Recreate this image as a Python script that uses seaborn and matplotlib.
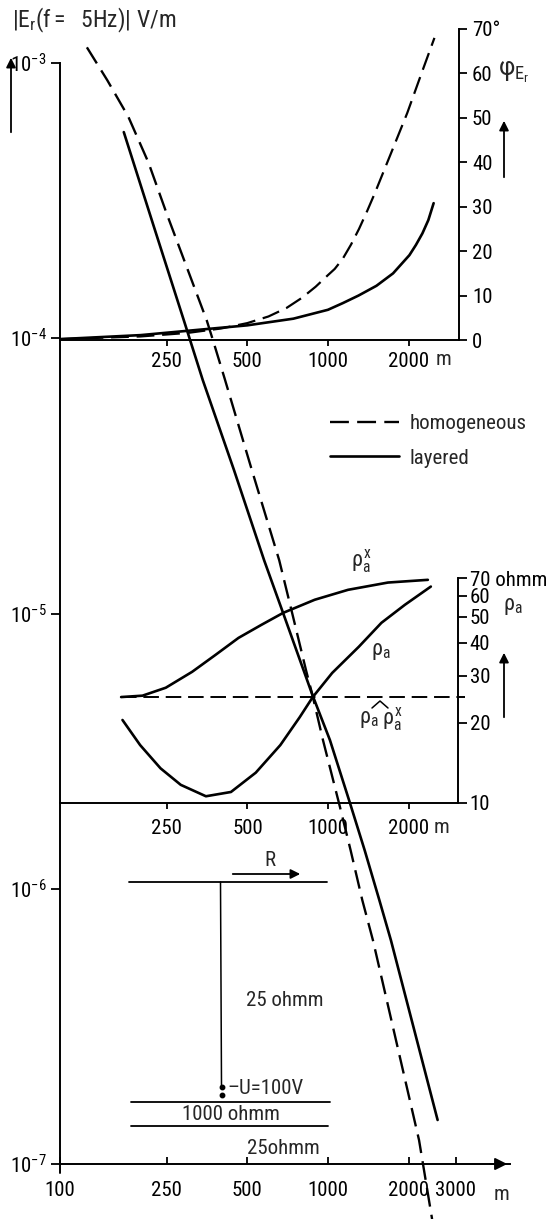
import matplotlib
matplotlib.use("Agg")
import numpy as np
import pandas as pd
import matplotlib.pyplot as plt
from matplotlib import font_manager
from matplotlib.lines import Line2D
from matplotlib.ticker import FixedLocator, FixedFormatter, NullLocator
import seaborn as sns

# |E_r| at f = 5 Hz versus offset R (m), V/m
r_hom = [126, 150, 180, 214, 251, 353, 372, 411, 520, 658, 735, 828, 875, 958, 1109, 1215, 1343, 1472, 2188, 2447]
e_hom = [1.14e-3, 8.67e-4, 6.37e-4, 4.34e-4, 2.81e-4, 1.16e-4, 9.86e-5, 7.17e-5, 3.32e-5, 1.56e-5,
         1.005e-5, 6.23e-6, 5.06e-6, 3.47e-6, 1.98e-6, 1.38e-6, 9.1e-7, 6.5e-7, 1.22e-7, 6.31e-8]
r_lay = [173, 223, 290, 341, 446, 578, 680, 875, 1017, 1208, 1371, 1555, 1718, 2566]
e_lay = [5.61e-4, 2.58e-4, 1.16e-4, 7.05e-5, 3.32e-5, 1.56e-5, 1.005e-5, 5.06e-6, 3.47e-6,
         2.05e-6, 1.38e-6, 9.1e-7, 6.5e-7, 1.445e-7]

# phase of E_r (degrees)
r_ph_hom = [100, 200, 300, 400, 500, 600, 700, 800, 900, 1000, 1060, 1136, 1220, 1306, 1400,
            1495, 1721, 1977, 2237, 2497]
ph_hom = [0.2, 0.8, 1.6, 2.6, 3.8, 5.3, 7.2, 9.5, 12.0, 14.6, 16.0, 18.3, 21.5, 25.0, 29.0,
          33.0, 42.1, 51.1, 60.1, 68.0]
r_ph_lay = [100, 200, 316, 500, 743, 1000, 1136, 1300, 1517, 1750, 2014, 2130, 2252, 2370, 2480]
ph_lay = [0.2, 1.1, 2.2, 3.3, 4.8, 6.8, 8.3, 10.0, 12.2, 15.0, 19.1, 21.4, 24.0, 27.0, 30.8]

# apparent resistivities (ohm m)
r_rho_x = [169, 203, 248, 311, 380, 463, 564, 680, 891, 1186, 1670, 2353]
rho_x = [25.0, 25.3, 27.1, 31.1, 36.0, 41.7, 46.7, 51.8, 58.0, 63.2, 67.3, 68.9]
r_rho_a = [171, 199, 237, 282, 350, 434, 537, 663, 783, 876, 1035, 1300, 1579, 1931, 2414]
rho_a = [20.5, 16.5, 13.5, 11.7, 10.6, 11.0, 13.0, 16.5, 21.0, 25.0, 30.8, 38.6, 47.5, 55.5, 65.0]
r_rho_hom = [169, 3230]
rho_hom = [25.0, 25.0]

main_xticks = [100, 250, 500, 1000, 2000, 3000]
main_yticks = [1e-7, 1e-6, 1e-5, 1e-4, 1e-3]
main_ylabels = [r"$10^{-7}$", r"$10^{-6}$", r"$10^{-5}$", r"$10^{-4}$", r"$10^{-3}$"]
panel_xticks = [250, 500, 1000, 2000]
phase_ticks = [0, 10, 20, 30, 40, 50, 60, 70]
phase_labels = ["0", "10", "20", "30", "40", "50", "60", "70°"]
rho_ticks = [10, 20, 30, 40, 50, 60, 70]
rho_labels = ["10", "20", "30", "40", "50", "60", "70 ohmm"]

sns.set_style("ticks")
available = {f.name for f in font_manager.fontManager.ttflist}
fam = "DejaVu Sans"
for cand in ["Liberation Sans Narrow", "DejaVu Sans Condensed", "Roboto Condensed", "Liberation Sans"]:
    if cand in available:
        fam = cand
        break
plt.rcParams["font.family"] = [fam, "DejaVu Sans"]
plt.rcParams["mathtext.fontset"] = "custom"
plt.rcParams["mathtext.rm"] = fam
plt.rcParams["mathtext.it"] = fam
plt.rcParams["mathtext.sf"] = fam
plt.rcParams["mathtext.bf"] = fam
plt.rcParams["axes.linewidth"] = 1.4
plt.rcParams["axes.edgecolor"] = "black"
plt.rcParams["xtick.color"] = "black"
plt.rcParams["ytick.color"] = "black"
FS = 15

W, H = 549, 1219
fig = plt.figure(figsize=(W / 100, H / 100), dpi=100)
fig.patch.set_facecolor("white")


def box(x0, x1, y0, y1):
    return [x0 / W, 1 - y1 / H, (x1 - x0) / W, (y1 - y0) / H]


def fx(x):
    return x / W


def fy(y):
    return 1 - y / H


def ftext(x, y, s, **kw):
    kw.setdefault("fontsize", FS)
    kw.setdefault("va", "center")
    fig.text(fx(x), fy(y), s, **kw)


def fline(xs, ys, **kw):
    kw.setdefault("color", "k")
    kw.setdefault("lw", 1.3)
    fig.add_artist(Line2D([fx(v) for v in xs], [fy(v) for v in ys], transform=fig.transFigure, **kw))


def farrow(x0, y0, x1, y1):
    fig.add_artist(matplotlib.patches.FancyArrowPatch(
        (fx(x0), fy(y0)), (fx(x1), fy(y1)), transform=fig.transFigure,
        arrowstyle="-|>", mutation_scale=14, color="k", lw=1.3))


DASH = (0, (8, 3.5))

# ---------------- main amplitude axes ----------------
ax = fig.add_axes(box(60, 510, 63, 1164))
ax.patch.set_alpha(0)
ax.set_xscale("log")
ax.set_yscale("log")
ax.set_xlim(100, 4780)
ax.set_ylim(1e-7, 1e-3)

df_hom = pd.DataFrame({"R": r_hom, "E": e_hom})
df_lay = pd.DataFrame({"R": r_lay, "E": e_lay})
sns.lineplot(data=df_hom, x="R", y="E", ax=ax, color="k", lw=1.7, linestyle=DASH,
             estimator=None, sort=False, legend=False)
h_hom = ax.lines[-1]
sns.lineplot(data=df_lay, x="R", y="E", ax=ax, color="k", lw=1.9,
             estimator=None, sort=False, legend=False)
h_lay = ax.lines[-1]
for ln in ax.lines:
    ln.set_clip_on(False)

for s in ["top", "right"]:
    ax.spines[s].set_visible(False)
ax.xaxis.set_major_locator(FixedLocator(main_xticks))
ax.xaxis.set_major_formatter(FixedFormatter([str(v) for v in main_xticks]))
ax.xaxis.set_minor_locator(NullLocator())
ax.yaxis.set_major_locator(FixedLocator(main_yticks))
ax.yaxis.set_major_formatter(FixedFormatter(main_ylabels))
ax.yaxis.set_minor_locator(NullLocator())
ax.tick_params(axis="x", direction="in", length=5, width=1.3, pad=12, labelsize=FS)
ax.tick_params(axis="y", direction="out", length=6.5, width=1.3, pad=3, labelsize=FS)
ax.set_xlabel("")
ax.set_ylabel("")
ax.plot([0, 0], [0, -0.008], transform=ax.transAxes, color="k", lw=1.4, clip_on=False)
ax.annotate("", xy=(1.0, 0), xytext=(0.95, 0), xycoords="axes fraction",
            arrowprops=dict(arrowstyle="-|>", color="k", lw=1.4, mutation_scale=18),
            annotation_clip=False)
ax.text(4452, -0.019, "m", transform=ax.get_xaxis_transform(), fontsize=FS,
        ha="center", va="top")

ax.legend(handles=[h_hom, h_lay], labels=["homogeneous", "layered"], loc="upper left",
          bbox_to_anchor=(fx(330), fy(414)), bbox_transform=fig.transFigure, frameon=False,
          fontsize=FS, handlelength=3.3, handletextpad=0.5, borderpad=0, borderaxespad=0,
          labelspacing=0.75)

# ---------------- phase panel ----------------
pax = fig.add_axes(box(60, 459, 29, 340))
pax.patch.set_alpha(0)
pax.set_xscale("log")
pax.set_xlim(100, 3084)
pax.set_ylim(0, 70)
sns.lineplot(x=r_ph_hom, y=ph_hom, ax=pax, color="k", lw=1.6, linestyle=DASH,
             estimator=None, sort=False, legend=False)
sns.lineplot(x=r_ph_lay, y=ph_lay, ax=pax, color="k", lw=1.9,
             estimator=None, sort=False, legend=False)
for s in ["top", "left"]:
    pax.spines[s].set_visible(False)
pax.yaxis.tick_right()
pax.yaxis.set_major_locator(FixedLocator(phase_ticks))
pax.yaxis.set_major_formatter(FixedFormatter(phase_labels))
pax.xaxis.set_major_locator(FixedLocator(panel_xticks))
pax.xaxis.set_major_formatter(FixedFormatter([str(v) for v in panel_xticks]))
pax.xaxis.set_minor_locator(NullLocator())
pax.tick_params(axis="x", direction="out", length=4.3, width=1.3, pad=4.5, labelsize=FS)
pax.tick_params(axis="y", direction="out", length=5.8, width=1.3, pad=3.5, labelsize=FS)
pax.text(2700, -0.064, "m", transform=pax.get_xaxis_transform(), fontsize=FS, ha="center", va="center")

# ---------------- apparent resistivity panel ----------------
rax = fig.add_axes(box(60, 458, 578, 803))
rax.patch.set_alpha(0)
rax.set_xscale("log")
rax.set_yscale("log")
rax.set_xlim(100, 3048)
rax.set_ylim(10, 70)
sns.lineplot(x=r_rho_x, y=rho_x, ax=rax, color="k", lw=1.9, estimator=None, sort=False, legend=False)
sns.lineplot(x=r_rho_a, y=rho_a, ax=rax, color="k", lw=1.9, estimator=None, sort=False, legend=False)
sns.lineplot(x=r_rho_hom, y=rho_hom, ax=rax, color="k", lw=1.4, linestyle=DASH,
             estimator=None, sort=False, legend=False)
for ln in rax.lines:
    ln.set_clip_on(False)
for s in ["top", "left"]:
    rax.spines[s].set_visible(False)
rax.yaxis.tick_right()
rax.yaxis.set_major_locator(FixedLocator(rho_ticks))
rax.yaxis.set_major_formatter(FixedFormatter(rho_labels))
rax.yaxis.set_minor_locator(NullLocator())
rax.xaxis.set_major_locator(FixedLocator(panel_xticks))
rax.xaxis.set_major_formatter(FixedFormatter([str(v) for v in panel_xticks]))
rax.xaxis.set_minor_locator(NullLocator())
rax.tick_params(axis="x", direction="out", length=4.3, width=1.3, pad=7, labelsize=FS)
rax.tick_params(axis="y", direction="out", length=6.5, width=1.3, pad=2, labelsize=FS)
rax.text(2640, -0.107, "m", transform=rax.get_xaxis_transform(), fontsize=FS, ha="center", va="center")

# ---------------- annotations ----------------
ftext(12, 20, r"$|E_r(f{=}\ \ 5Hz)|\ V/m$", fontsize=17, ha="left")
farrow(11, 135, 11, 55)

ftext(498, 72, r"$φ_{E_r}$", fontsize=19, ha="left")
farrow(504, 180, 504, 118)

ftext(361, 561, r"$ρ_a^x$", fontsize=16, ha="center")
ftext(381, 652, r"$ρ_a$", fontsize=16, ha="center")
ftext(369, 719, r"$ρ_a$", fontsize=16, ha="center")
ftext(392, 719, r"$ρ_a^x$", fontsize=16, ha="center")
fline([372, 380, 388], [708, 701, 708], lw=1.1)
ftext(513, 607, r"$ρ_a$", fontsize=16, ha="center")
farrow(504, 720, 504, 650)

# layered earth sketch
fline([129, 327], [882, 882])
ftext(270, 861, "R", ha="center")
farrow(230, 874, 303, 874)
fline([220.5, 221.5], [882, 1086], lw=1.1)
fig.add_artist(Line2D([fx(222), fx(222)], [fy(1087), fy(1095)], transform=fig.transFigure,
                      ls="none", marker="o", ms=3.2, color="k"))
ftext(227, 1088, "–U=100V", ha="left")
ftext(285, 1000, "25 ohmm", ha="center")
fline([131, 330], [1102, 1102])
ftext(231, 1115, "1000 ohmm", ha="center")
fline([131, 328], [1126, 1126])
ftext(283, 1149, "25ohmm", ha="center")

fig.savefig("out.png", dpi=100, facecolor="white")
